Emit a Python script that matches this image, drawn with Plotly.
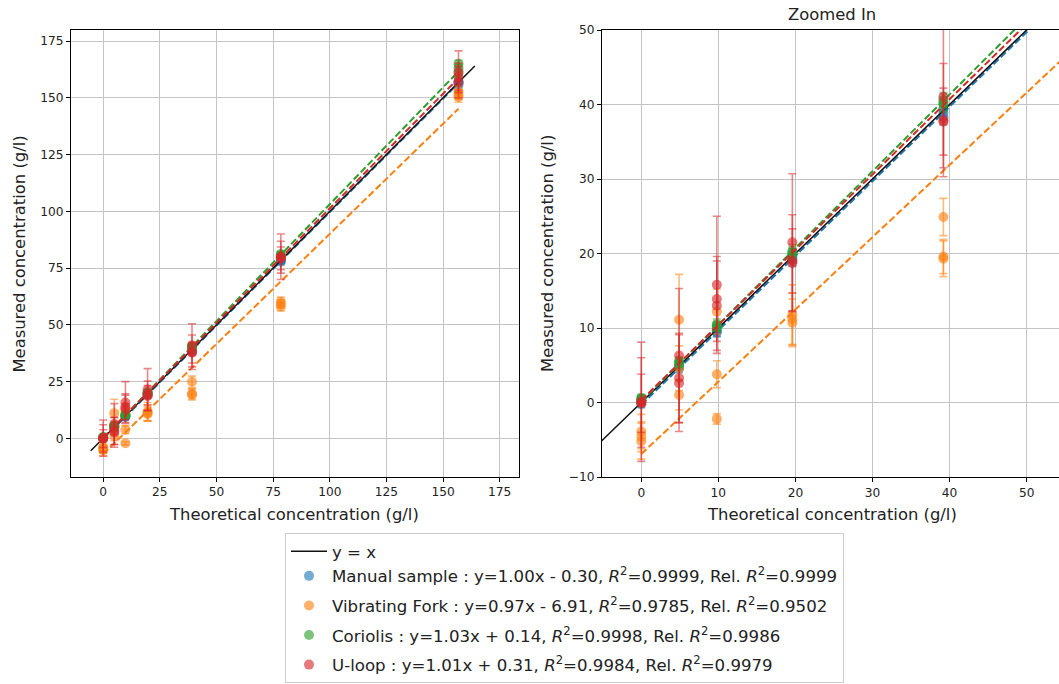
import numpy as np
import plotly.graph_objects as go

# ---------------- data ----------------
conc = [0, 4.9, 9.8, 19.6, 39.2, 78.4, 156.8]
x_rep = [c for c in conc for _ in range(3)]

manual_y = [-0.2, 0.1, 0.3, 4.6, 4.8, 5.0, 9.4, 9.6, 9.9, 19.1, 19.4, 19.8,
            38.3, 38.9, 39.4, 77.8, 78.3, 78.7, 155.9, 156.5, 157.2]
manual_err = [0.5, 0.4, 0.5, 0.6, 0.5, 0.5, 0.6, 0.7, 0.6, 0.8, 0.7, 0.8,
              1.0, 0.9, 1.0, 1.2, 1.1, 1.2, 1.5, 1.4, 1.5]

fork_y = [-3.9, -4.6, -5.2, 11.1, 4.6, 1.0, 12.2, 3.8, -2.2, 11.8, 11.2, 10.7,
          24.9, 19.6, 19.3, 60.2, 59.2, 58.0, 152.8, 151.5, 150.4]
fork_err = [2.3, 2.0, 2.4, 6.1, 3.0, 2.0, 3.0, 1.8, 0.7, 4.0, 3.5, 3.2,
            2.5, 2.3, 2.4, 2.0, 1.8, 1.9, 2.5, 2.2, 2.3]

coriolis_y = [0.6, 0.4, 0.5, 5.2, 5.4, 5.6, 10.1, 10.3, 10.5, 19.9, 20.1, 20.3,
              40.0, 40.3, 40.6, 80.3, 80.8, 81.2, 161.0, 163.2, 165.0]
coriolis_err = [0.5, 0.4, 0.5, 0.5, 0.6, 0.5, 0.6, 0.6, 0.7, 0.8, 0.8, 0.9,
                1.0, 1.1, 1.0, 1.2, 1.3, 1.2, 1.5, 1.6, 1.5]

uloop_y = [0.1, 0.0, -0.1, 6.3, 3.3, 2.6, 15.8, 13.9, 13.0, 21.5, 18.7, 19.0,
           41.0, 37.9, 37.7, 80.0, 79.3, 79.8, 161.5, 159.3, 157.0]
uloop_err = [8.0, 6.0, 3.9, 9.0, 6.0, 6.5, 9.2, 5.7, 6.0, 9.2, 6.5, 4.3,
             9.5, 7.6, 4.5, 10.0, 5.0, 7.0, 9.2, 6.0, 7.0]

method_names = ["Manual sample", "Vibrating Fork", "Coriolis", "U-loop"]
method_colors = ["#1f77b4", "#ff7f0e", "#2ca02c", "#d62728"]
method_rgb = [(31, 119, 180), (255, 127, 14), (44, 160, 44), (214, 39, 40)]
fit_slope = [1.00, 0.97, 1.03, 1.01]
fit_intercept = [-0.30, -6.91, 0.14, 0.31]
fit_r2 = [0.9999, 0.9785, 0.9998, 0.9984]
fit_rel_r2 = [0.9999, 0.9502, 0.9986, 0.9979]

identity_x = [-5.5, 164]

left_xticks = [0, 25, 50, 75, 100, 125, 150, 175]
left_yticks = [0, 25, 50, 75, 100, 125, 150, 175]
right_xticks = [0, 10, 20, 30, 40, 50]
right_yticks = [-10, 0, 10, 20, 30, 40, 50]

ys = [manual_y, fork_y, coriolis_y, uloop_y]
errs = [manual_err, fork_err, coriolis_err, uloop_err]

# ---------------- figure ----------------
W, H = 1059, 684
FONT = "DejaVu Sans"
fig = go.Figure()

fit_x = np.array([min(conc), max(conc)])

for axn, (xa, ya) in enumerate([("x", "y"), ("x2", "y2")]):
    for i in range(4):
        r, g, b = method_rgb[i]
        a, c = fit_slope[i], fit_intercept[i]
        sign = "+" if c >= 0 else "-"
        label = (f"{method_names[i]} : y={a:.2f}x {sign} {abs(c):.2f}, "
                 f"<i>R</i><sup>2</sup>={fit_r2[i]:.4f}, "
                 f"Rel. <i>R</i><sup>2</sup>={fit_rel_r2[i]:.4f}")
        grp = "g0" if i == 0 else f"g{i}"
        fig.add_trace(go.Scatter(
            x=x_rep, y=ys[i], mode="markers",
            marker=dict(color=method_colors[i], size=10, opacity=0.62,
                        line=dict(width=0)),
            error_y=dict(type="data", array=errs[i], visible=True,
                         color=f"rgba({r},{g},{b},0.55)", thickness=1.6, width=4),
            name=label, legendgroup=grp, legendrank=i + 2,
            showlegend=(axn == 0), xaxis=xa, yaxis=ya))
        fig.add_trace(go.Scatter(
            x=fit_x, y=a * fit_x + c, mode="lines",
            line=dict(color=method_colors[i], width=2, dash="7px,3px"),
            showlegend=False, legendgroup=grp, xaxis=xa, yaxis=ya))
        if i == 0:
            # identity line, drawn just above the manual-sample fit
            fig.add_trace(go.Scatter(
                x=identity_x, y=identity_x, mode="lines",
                line=dict(color="#111111", width=1.5),
                name="y = x", legendgroup="g0", legendrank=1,
                showlegend=(axn == 0), xaxis=xa, yaxis=ya))


def px_x(p):
    return min(p / W, 1.0)


def px_y(p):
    return 1 - p / H


axis_common = dict(
    showline=True, linecolor="black", linewidth=1,
    ticks="outside", ticklen=4, tickwidth=1, tickcolor="black",
    showgrid=True, gridcolor="#c4c4c4", gridwidth=1,
    zeroline=False, automargin=False,
    tickfont=dict(family=FONT, size=12.2, color="#222222"),
)

fig.update_layout(
    width=W, height=H, template="none",
    margin=dict(l=0, r=0, t=0, b=0, pad=0),
    paper_bgcolor="white", plot_bgcolor="white",
    font=dict(family=FONT, color="#222222"),
    xaxis=dict(domain=[px_x(71), px_x(519)], range=[-14.2, 183.5],
               tickvals=left_xticks, anchor="y", mirror=True, **axis_common),
    yaxis=dict(domain=[px_y(476.7), px_y(30)], range=[-16.9, 179.9],
               tickvals=left_yticks, anchor="x", mirror=True, **axis_common),
    xaxis2=dict(domain=[px_x(602), 1.0], range=[-5.1, 54.2],
                tickvals=right_xticks, anchor="y2", mirror=True, **axis_common),
    yaxis2=dict(domain=[px_y(477), px_y(30)], range=[-10, 50],
                tickvals=right_yticks, anchor="x2", mirror=False, **axis_common),
    legend=dict(
        x=px_x(285), y=px_y(533), xanchor="left", yanchor="top",
        bordercolor="#cccccc", borderwidth=1, bgcolor="white",
        font=dict(family=FONT, size=16.6, color="#222222"),
        traceorder="grouped", tracegroupgap=5, itemwidth=36,
    ),
    showlegend=True,
)

title_font = dict(family=FONT, size=16.4, color="#222222")
annos = [
    dict(text="Theoretical concentration (g/l)", x=px_x(294), y=px_y(514)),
    dict(text="Theoretical concentration (g/l)", x=px_x(832), y=px_y(514)),
    dict(text="Measured concentration (g/l)", x=px_x(18.6), y=px_y(254), textangle=-90),
    dict(text="Measured concentration (g/l)", x=px_x(547), y=px_y(254), textangle=-90),
    dict(text="Zoomed In", x=px_x(832), y=px_y(15)),
]
for an in annos:
    fig.add_annotation(xref="paper", yref="paper", showarrow=False,
                       xanchor="center", yanchor="middle", font=title_font, **an)

fig.write_html("out.html")
